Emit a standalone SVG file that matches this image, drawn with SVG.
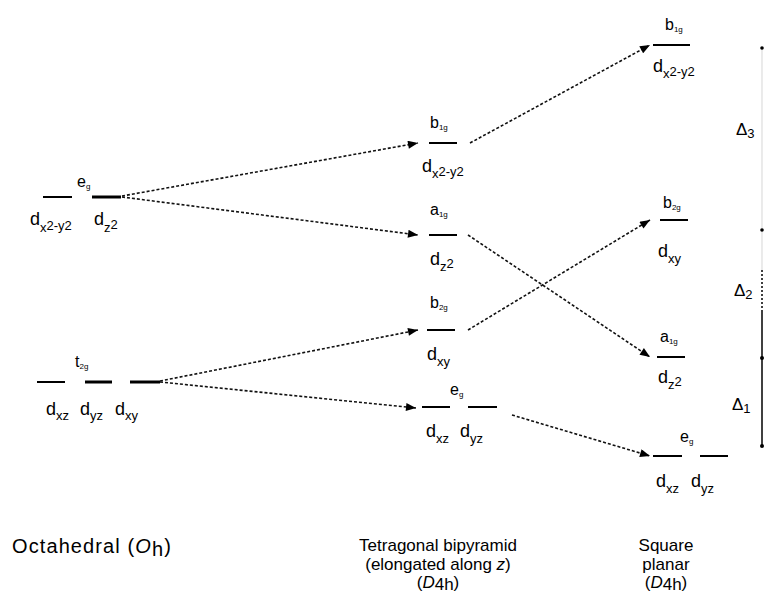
<svg xmlns="http://www.w3.org/2000/svg" width="764" height="593" viewBox="0 0 764 593">
<defs>
<style>
.lv{stroke:#000;stroke-width:2;fill:none}
.lvb{stroke:#000;stroke-width:3;fill:none}
.cn{stroke:#111;stroke-width:1.6;stroke-dasharray:3 2;fill:none}
text{font-family:"Liberation Sans",Arial,sans-serif;fill:#000}
.d{font-size:18px}
.s{font-size:13px}
.sym{font-size:16px}
.ss{font-size:8px}
.lab{font-size:17px}
.dl{font-size:17px}
</style>
<marker id="ah" viewBox="0 0 10 8" refX="10" refY="4" markerWidth="11" markerHeight="8" orient="auto" markerUnits="userSpaceOnUse"><path d="M0,0 L10,4 L0,8 z" fill="#000"/></marker>
</defs>
<rect width="764" height="593" fill="#fff"/>

<g id="oh-eg">
<line class="lv" x1="43" y1="197" x2="72" y2="197"/>
<line class="lvb" x1="92" y1="197" x2="121" y2="197"/>
<text class="sym" x="77" y="187">e<tspan class="ss" dy="2">g</tspan></text>
<text class="d" x="30" y="225">d<tspan class="s" dy="7">x</tspan><tspan class="s" dy="-2">2-y</tspan><tspan class="s">2</tspan></text>
<text class="d" x="94" y="225">d<tspan class="s" dy="7">z</tspan><tspan class="s" dy="-3">2</tspan></text>
</g>

<g id="oh-t2g">
<line class="lv" x1="37" y1="382" x2="65" y2="382"/>
<line class="lvb" x1="85" y1="382" x2="112" y2="382"/>
<line class="lvb" x1="130" y1="382" x2="160" y2="382"/>
<text class="sym" x="75" y="367">t<tspan class="ss" dy="2">2g</tspan></text>
<text class="d" x="46" y="415">d<tspan class="s" dy="5">xz</tspan></text>
<text class="d" x="80" y="415">d<tspan class="s" dy="5">yz</tspan></text>
<text class="d" x="115" y="415">d<tspan class="s" dy="5">xy</tspan></text>
</g>

<g id="d4h-b1g">
<line class="lv" x1="429" y1="143" x2="457" y2="143"/>
<text class="sym" x="430" y="128">b<tspan class="ss" dy="2">1g</tspan></text>
<text class="d" x="422" y="172">d<tspan class="s" dy="6">x</tspan><tspan class="s" dy="-2">2-y</tspan><tspan class="s">2</tspan></text>
</g>
<g id="d4h-a1g">
<line class="lv" x1="429" y1="235" x2="457" y2="235"/>
<text class="sym" x="430" y="215">a<tspan class="ss" dy="2">1g</tspan></text>
<text class="d" x="430" y="265">d<tspan class="s" dy="6">z</tspan><tspan class="s" dy="-3">2</tspan></text>
</g>
<g id="d4h-b2g">
<line class="lv" x1="427" y1="330" x2="455" y2="330"/>
<text class="sym" x="430" y="308">b<tspan class="ss" dy="2">2g</tspan></text>
<text class="d" x="427" y="360">d<tspan class="s" dy="6">xy</tspan></text>
</g>
<g id="d4h-eg">
<line class="lv" x1="422" y1="407" x2="450" y2="407"/>
<line class="lv" x1="468" y1="407" x2="497" y2="407"/>
<text class="sym" x="450" y="395">e<tspan class="ss" dy="2">g</tspan></text>
<text class="d" x="426" y="437">d<tspan class="s" dy="6">xz</tspan></text>
<text class="d" x="460" y="437">d<tspan class="s" dy="6">yz</tspan></text>
</g>

<g id="sq-b1g">
<line class="lv" x1="653" y1="45" x2="690" y2="45"/>
<text class="sym" x="665" y="30">b<tspan class="ss" dy="2">1g</tspan></text>
<text class="d" x="653" y="72">d<tspan class="s" dy="6">x</tspan><tspan class="s" dy="-2">2-y</tspan><tspan class="s">2</tspan></text>
</g>
<g id="sq-b2g">
<line class="lv" x1="660" y1="220" x2="688" y2="220"/>
<text class="sym" x="663" y="208">b<tspan class="ss" dy="2">2g</tspan></text>
<text class="d" x="658" y="257">d<tspan class="s" dy="6">xy</tspan></text>
</g>
<g id="sq-a1g">
<line class="lv" x1="657" y1="357" x2="685" y2="357"/>
<text class="sym" x="660" y="342">a<tspan class="ss" dy="2">1g</tspan></text>
<text class="d" x="658" y="383">d<tspan class="s" dy="6">z</tspan><tspan class="s" dy="-3">2</tspan></text>
</g>
<g id="sq-eg">
<line class="lv" x1="653" y1="456" x2="682" y2="456"/>
<line class="lv" x1="700" y1="456" x2="728" y2="456"/>
<text class="sym" x="680" y="442">e<tspan class="ss" dy="2">g</tspan></text>
<text class="d" x="656" y="487">d<tspan class="s" dy="6">xz</tspan></text>
<text class="d" x="691" y="487">d<tspan class="s" dy="6">yz</tspan></text>
</g>

<g id="connectors">
<path class="cn" d="M122,196 L418,143" marker-end="url(#ah)"/>
<path class="cn" d="M122,197 L418,235" marker-end="url(#ah)"/>
<path class="cn" d="M160,381 L418,330" marker-end="url(#ah)"/>
<path class="cn" d="M160,382 L416,408" marker-end="url(#ah)"/>
<path class="cn" d="M470,143 L650,45" marker-end="url(#ah)"/>
<path class="cn" d="M468,235 L650,357" marker-end="url(#ah)"/>
<path class="cn" d="M468,330 L650,220" marker-end="url(#ah)"/>
<path class="cn" d="M512,415 L650,456" marker-end="url(#ah)"/>
</g>

<g id="splitting">
<line x1="762" y1="48" x2="762" y2="270" stroke="#ddd" stroke-width="1.2"/>
<line x1="762" y1="270" x2="762" y2="312" stroke="#000" stroke-width="1.5" stroke-dasharray="2 2"/>
<line x1="762" y1="312" x2="762" y2="446" stroke="#000" stroke-width="1.5"/>
<circle cx="762" cy="48" r="1.8" fill="#000"/>
<circle cx="762" cy="230" r="1.8" fill="#000"/>
<circle cx="762" cy="358" r="2" fill="#000"/>
<circle cx="762" cy="446" r="2" fill="#000"/>
<text class="dl" x="736" y="135">Δ<tspan font-size="13" dy="3">3</tspan></text>
<text class="dl" x="734" y="296">Δ<tspan font-size="13" dy="3">2</tspan></text>
<text class="dl" x="732" y="410">Δ<tspan font-size="13" dy="3">1</tspan></text>
</g>

<g id="labels">
<text x="12" y="553" font-size="20" letter-spacing="1.1">Octahedral (<tspan font-style="italic">O</tspan><tspan dy="3">h</tspan><tspan dy="-3">)</tspan></text>
<text class="lab" x="438" y="551" text-anchor="middle">Tetragonal bipyramid</text>
<text class="lab" x="438" y="570" text-anchor="middle">(elongated along <tspan font-style="italic">z</tspan>)</text>
<text class="lab" x="438" y="588" text-anchor="middle">(<tspan font-style="italic">D</tspan><tspan dy="2">4h</tspan><tspan dy="-2">)</tspan></text>
<text class="lab" x="666" y="551" text-anchor="middle">Square</text>
<text class="lab" x="666" y="570" text-anchor="middle">planar</text>
<text class="lab" x="666" y="588" text-anchor="middle">(<tspan font-style="italic">D</tspan><tspan dy="2">4h</tspan><tspan dy="-2">)</tspan></text>
</g>
</svg>
